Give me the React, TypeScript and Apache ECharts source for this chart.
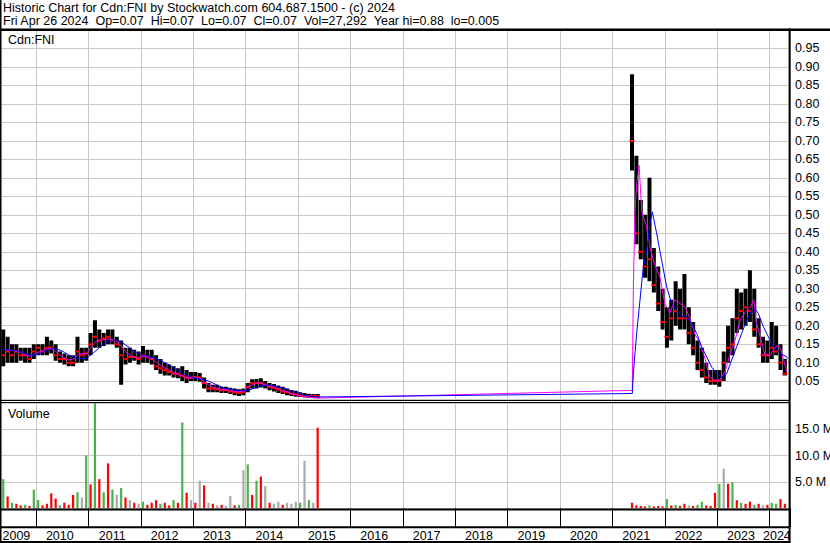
import React, { useEffect, useRef } from 'react';
import * as echarts from 'echarts';

// ---------- DATA ----------
// Period 1: May 2009 - May 2015 (monthly)
const months1 = [
  '2009-05','2009-06','2009-07','2009-08','2009-09','2009-10','2009-11','2009-12',
  '2010-01','2010-02','2010-03','2010-04','2010-05','2010-06','2010-07','2010-08','2010-09','2010-10','2010-11','2010-12',
  '2011-01','2011-02','2011-03','2011-04','2011-05','2011-06','2011-07','2011-08','2011-09','2011-10','2011-11','2011-12',
  '2012-01','2012-02','2012-03','2012-04','2012-05','2012-06','2012-07','2012-08','2012-09','2012-10','2012-11','2012-12',
  '2013-01','2013-02','2013-03','2013-04','2013-05','2013-06','2013-07','2013-08','2013-09','2013-10','2013-11','2013-12',
  '2014-01','2014-02','2014-03','2014-04','2014-05','2014-06','2014-07','2014-08','2014-09','2014-10','2014-11','2014-12',
  '2015-01','2015-02','2015-03','2015-04','2015-05'
];
const high1 = [
  0.19,0.17,0.15,0.15,0.14,0.14,0.14,0.15,
  0.15,0.15,0.17,0.16,0.15,0.13,0.125,0.12,0.12,0.17,0.14,0.14,
  0.18,0.215,0.19,0.18,0.19,0.19,0.17,0.16,0.14,0.14,0.135,0.13,
  0.145,0.135,0.135,0.12,0.11,0.10,0.095,0.09,0.085,0.09,0.08,0.075,
  0.075,0.072,0.06,0.045,0.04,0.04,0.035,0.035,0.032,0.03,0.028,0.03,
  0.045,0.055,0.056,0.058,0.05,0.045,0.042,0.038,0.035,0.03,0.026,0.024,
  0.02,0.018,0.016,0.015,0.015
];
const low1 = [
  0.09,0.10,0.10,0.10,0.105,0.10,0.10,0.11,
  0.12,0.12,0.12,0.125,0.105,0.10,0.095,0.09,0.09,0.10,0.10,0.105,
  0.12,0.14,0.14,0.145,0.15,0.15,0.14,0.04,0.095,0.10,0.105,0.095,
  0.10,0.10,0.095,0.08,0.07,0.065,0.065,0.06,0.058,0.05,0.045,0.05,
  0.05,0.048,0.03,0.02,0.02,0.02,0.018,0.018,0.015,0.012,0.01,0.012,
  0.02,0.03,0.03,0.033,0.03,0.025,0.022,0.018,0.015,0.012,0.01,0.008,
  0.007,0.006,0.005,0.005,0.005
];
const close1 = [
  0.12,0.13,0.12,0.13,0.12,0.12,0.11,0.13,
  0.14,0.13,0.14,0.14,0.12,0.11,0.11,0.10,0.10,0.13,0.12,0.125,
  0.15,0.17,0.16,0.165,0.17,0.16,0.15,0.12,0.11,0.115,0.115,0.11,
  0.12,0.115,0.11,0.09,0.085,0.08,0.075,0.07,0.07,0.065,0.06,0.06,
  0.062,0.06,0.045,0.03,0.03,0.028,0.025,0.025,0.022,0.02,0.018,0.02,
  0.035,0.045,0.045,0.045,0.04,0.035,0.032,0.028,0.022,0.02,0.016,0.014,
  0.012,0.01,0.01,0.01,0.01
];
const volume1 = [ // millions
  5.5,2.2,1.0,0.8,0.5,0.6,0.4,3.5,
  1.5,0.5,0.8,2.8,1.8,0.5,1.0,0.6,2.5,3.0,2.0,10,
  4.5,20.5,5.5,3.0,8.5,3.5,2.5,3.8,2.0,1.5,1.0,0.8,
  1.2,0.6,1.0,1.5,0.8,1.0,0.5,1.5,1.0,16.3,2.9,1.5,
  1.0,5.2,4.3,1.0,0.8,0.5,0.6,0.4,2.3,0.5,0.6,7.2,
  8.3,2.5,5.2,6.0,4.2,1.0,0.8,1.2,0.6,1.0,0.8,1.2,
  1.0,9.0,1.5,1.0,15.3
];
const volDir1 = [ // g = up, r = down, n = unchanged
  'g','r','g','r','r','g','r','g',
  'g','r','r','r','r','g','r','r','r','g','n','g',
  'r','g','r','g','r','g','n','g','r','n','r','n',
  'g','r','r','r','g','r','r','g','r','g','r','n',
  'r','n','r','n','r','n','r','n','n','r','g','n',
  'g','r','g','r','n','r','n','n','r','n','n','n',
  'g','n','g','n','r'
];
const pinkMA1 = [
  0.136,0.134,0.133,0.131,0.128,0.122,0.117,0.122,
  0.128,0.132,0.136,0.138,0.13,0.12,0.113,0.107,0.11,0.12,0.125,0.123,
  0.14,0.155,0.16,0.162,0.164,0.162,0.158,0.145,0.13,0.12,0.115,0.112,
  0.116,0.116,0.11,0.102,0.093,0.086,0.08,0.073,0.068,0.064,0.058,0.058,
  0.06,0.058,0.048,0.04,0.034,0.03,0.028,0.027,0.025,0.022,0.021,0.024,
  0.033,0.04,0.044,0.044,0.04,0.037,0.034,0.03,0.025,0.021,0.016,0.013,
  0.01,0.008,0.006,0.005,0.004
];
const blueMA1 = [
  0.136,0.134,0.134,0.132,0.129,0.124,0.12,0.121,
  0.123,0.128,0.134,0.138,0.137,0.134,0.128,0.121,0.116,0.112,0.111,0.112,
  0.12,0.13,0.14,0.15,0.156,0.16,0.161,0.156,0.148,0.14,0.13,0.124,
  0.12,0.118,0.115,0.111,0.106,0.10,0.094,0.086,0.078,0.072,0.066,0.062,
  0.058,0.056,0.054,0.05,0.045,0.039,0.034,0.03,0.028,0.026,0.025,0.024,
  0.025,0.029,0.033,0.037,0.039,0.039,0.037,0.034,0.031,0.028,0.024,0.02,
  0.016,0.012,0.01,0.008,0.007
];

// Period 2: May 2021 - Apr 2024 (monthly)
const months2 = [
  '2021-05','2021-06','2021-07','2021-08','2021-09','2021-10','2021-11','2021-12',
  '2022-01','2022-02','2022-03','2022-04','2022-05','2022-06','2022-07','2022-08','2022-09','2022-10','2022-11','2022-12',
  '2023-01','2023-02','2023-03','2023-04','2023-05','2023-06','2023-07','2023-08','2023-09','2023-10','2023-11','2023-12',
  '2024-01','2024-02','2024-03','2024-04'
];
const high2 = [
  0.88,0.66,0.54,0.50,0.60,0.41,0.36,0.30,
  0.25,0.27,0.32,0.30,0.34,0.25,0.21,0.16,0.14,0.10,0.08,0.08,
  0.08,0.13,0.20,0.22,0.30,0.29,0.30,0.35,0.30,0.22,0.17,0.16,
  0.21,0.20,0.15,0.11
];
const low2 = [
  0.62,0.42,0.38,0.33,0.32,0.29,0.24,0.19,
  0.14,0.16,0.20,0.19,0.19,0.15,0.12,0.08,0.06,0.045,0.04,0.04,
  0.035,0.05,0.10,0.12,0.18,0.19,0.20,0.21,0.17,0.14,0.10,0.10,
  0.11,0.12,0.08,0.065
];
const close2 = [
  0.70,0.45,0.40,0.36,0.38,0.31,0.26,0.21,
  0.17,0.22,0.24,0.22,0.22,0.18,0.14,0.10,0.08,0.06,0.05,0.05,
  0.05,0.10,0.14,0.15,0.22,0.24,0.25,0.24,0.19,0.15,0.12,0.12,
  0.14,0.13,0.10,0.07
];
const volume2 = [
  1.0,0.5,0.4,0.3,0.5,0.3,0.4,0.3,
  1.7,0.5,0.6,0.4,0.8,0.5,0.4,0.6,1.2,0.5,0.4,2.9,
  4.6,7.5,4.6,4.9,1.5,1.0,0.8,1.2,0.6,0.8,0.5,0.6,
  1.0,0.8,1.7,0.8
];
const volDir2 = [
  'r','r','r','r','g','r','r','r',
  'g','r','g','r','r','n','r','g','g','r','r','r',
  'g','n','r','g','r','g','r','r','g','r','n','r',
  'g','g','r','r'
];
// Moving averages after trading resumed (x in fractional years)
const pinkT2 = [
  2021.38,2021.40,2021.43,2021.46,2021.51,2021.56,2021.60,2021.65,2021.72,2021.81,2021.91,
  2022.00,2022.10,2022.19,2022.29,2022.39,2022.48,2022.58,2022.67,2022.77,2022.86,2022.96,
  2023.05,2023.15,2023.24,2023.34,2023.44,2023.53,2023.63,2023.70,2023.74,2023.82,2023.87,2023.91,
  2024.01,2024.10,2024.17,2024.22,2024.30,2024.33
];
const pinkMA2 = [
  0.025,0.30,0.50,0.58,0.634,0.51,0.49,0.47,0.41,0.365,0.33,
  0.26,0.235,0.27,0.26,0.25,0.22,0.175,0.155,0.11,0.06,0.053,
  0.053,0.075,0.12,0.16,0.215,0.235,0.25,0.27,0.215,0.17,0.143,0.12,
  0.12,0.14,0.147,0.134,0.09,0.075
];
const blueT2 = [
  2021.38,2021.40,2021.463,2021.527,2021.59,2021.654,2021.718,2021.762,2021.845,2021.94,
  2022.036,2022.131,2022.227,2022.322,2022.418,2022.513,2022.609,2022.704,2022.799,2022.895,2022.99,
  2023.086,2023.181,2023.277,2023.372,2023.468,2023.563,2023.659,2023.723,2023.786,2023.882,2023.977,
  2024.072,2024.20,2024.327,2024.34
];
const blueMA2 = [
  0.0165,0.07,0.179,0.269,0.359,0.40,0.477,0.508,0.45,0.377,
  0.305,0.26,0.242,0.224,0.224,0.206,0.179,0.143,0.116,0.088,0.07,
  0.061,0.07,0.107,0.143,0.179,0.215,0.242,0.245,0.233,0.197,0.17,
  0.143,0.125,0.116,0.11
];

const yearLabels = ['2009','2010','2011','2012','2013','2014','2015','2016','2017','2018','2019','2020','2021','2022','2023','2024'];
const headerLine1 = 'Historic Chart for Cdn:FNI by Stockwatch.com 604.687.1500 - (c) 2024';
const headerLine2 = 'Fri Apr 26 2024 \u00a0Op=0.07 \u00a0Hi=0.07 \u00a0Lo=0.07 \u00a0Cl=0.07 \u00a0Vol=27,292 \u00a0Year hi=0.88 \u00a0lo=0.005';
const symbolName = 'Cdn:FNI';
const volumeTitle = 'Volume';

// ---------- helpers ----------
const toYear = (m: string) => {
  const [y, mo] = m.split('-').map(Number);
  return y + (mo - 0.5) / 12;
};
const FONT = "'Liberation Sans', Arial, Helvetica, sans-serif";
const GRID = '#c8c8c8';
const VOLC: Record<string, string> = { g: '#4cb04c', r: '#ff0000', n: '#aaaaaa' };

export default function App() {
  const ref = useRef<HTMLDivElement>(null);

  useEffect(() => {
    if (!ref.current) return;
    const chart = echarts.init(ref.current, undefined, { renderer: 'svg' });

    const t1 = months1.map(toYear);
    const t2 = months2.map(toYear);
    const ohlc = [
      ...t1.map((t, i) => [t, high1[i], low1[i], close1[i]]),
      ...t2.map((t, i) => [t, high2[i], low2[i], close2[i]]),
    ];
    const vols = [
      ...t1.map((t, i) => ({ value: [t, volume1[i]], itemStyle: { color: VOLC[volDir1[i]] } })),
      ...t2.map((t, i) => ({ value: [t, volume2[i]], itemStyle: { color: VOLC[volDir2[i]] } })),
    ];
    const pink = [
      ...t1.map((t, i) => [t, pinkMA1[i]]),
      ...pinkT2.map((t, i) => [t, pinkMA2[i]]),
    ];
    const blue = [
      ...t1.map((t, i) => [t, blueMA1[i]]),
      ...blueT2.map((t, i) => [t, blueMA2[i]]),
    ];

    const labelStyle = { color: '#000', fontSize: 12.5, fontFamily: FONT };
    const xBase = {
      type: 'value' as const,
      min: 2009,
      max: 2024.39,
      interval: 1,
      axisLine: { show: false },
      axisLabel: { show: false },
      splitLine: { show: true, lineStyle: { color: GRID, width: 1 } },
    };

    const rect = (x: number, y: number, w: number, h: number) => ({
      type: 'rect', z: 100, silent: true,
      shape: { x, y, width: w, height: h }, style: { fill: '#000' },
    });
    const text = (x: number, y: number, s: string) => ({
      type: 'text', z: 101, silent: true, x, y,
      style: { text: s, fill: '#000', font: `12.5px ${FONT}`, verticalAlign: 'middle', align: 'left' },
    });

    chart.setOption({
      animation: false,
      backgroundColor: '#fff',
      grid: [
        { left: -16.4, right: 40, top: 30, height: 369.6, outerBoundsMode: 'none', containLabel: false },
        { left: -16.4, right: 40, top: 403, height: 105, outerBoundsMode: 'none', containLabel: false },
        { left: -45, right: 36.6, top: 509, height: 18, outerBoundsMode: 'none', containLabel: false },
      ],
      xAxis: [
        { ...xBase, gridIndex: 0, axisTick: { show: false } },
        { ...xBase, gridIndex: 1, axisTick: { show: true, length: 19, lineStyle: { color: '#000', width: 1 } } },
        {
          type: 'value', gridIndex: 2, min: 2008.5, max: 2024.5, interval: 1,
          axisLine: { show: false }, axisTick: { show: false }, splitLine: { show: false },
          axisLabel: {
            show: true, margin: 2, ...labelStyle, showMinLabel: true, showMaxLabel: true,
            formatter: (v: number) => {
              const idx = Math.round(v - 2009.5);
              if (idx < 0 || idx >= yearLabels.length) return '';
              if (idx === 0) return `{a|${yearLabels[idx]}}`;
              if (idx === yearLabels.length - 1) return `{b|${yearLabels[idx]}}`;
              return yearLabels[idx];
            },
            rich: {
              a: { ...labelStyle, padding: [0, 0, 0, 18] },
              b: { ...labelStyle, padding: [0, 33, 0, 0] },
            },
          },
        },
      ],
      yAxis: [
        {
          type: 'value', gridIndex: 0, position: 'right', min: 0, max: 1, interval: 0.05,
          axisLine: { show: false }, axisTick: { show: false },
          splitLine: { show: true, lineStyle: { color: GRID, width: 1 } },
          axisLabel: {
            margin: 5, ...labelStyle,
            formatter: (v: number) => (v > 0.001 && v < 0.999 ? v.toFixed(2) : ''),
          },
        },
        {
          type: 'value', gridIndex: 1, position: 'right', min: 0, max: 20, interval: 5,
          axisLine: { show: false }, axisTick: { show: false },
          splitLine: { show: true, lineStyle: { color: GRID, width: 1 } },
          axisLabel: {
            margin: 5, ...labelStyle,
            formatter: (v: number) => (v > 0.001 && v < 19.99 ? v.toFixed(1) + ' M' : ''),
          },
        },
        {
          type: 'value', gridIndex: 2, show: false, min: 0, max: 1,
        },
      ],
      series: [
        {
          type: 'custom', name: 'price', xAxisIndex: 0, yAxisIndex: 0, clip: true, silent: true,
          data: ohlc,
          encode: { x: 0, y: [1, 2, 3] },
          renderItem: (params: any, api: any) => {
            const t = api.value(0);
            const pHi = api.coord([t, api.value(1)]);
            const pLo = api.coord([t, api.value(2)]);
            const pCl = api.coord([t, api.value(3)]);
            const w = api.size([1 / 12, 0])[0];
            const bw = w * 0.92;
            return {
              type: 'group',
              children: [
                { type: 'rect', shape: { x: pHi[0] - bw / 2, y: pHi[1], width: bw, height: Math.max(1, pLo[1] - pHi[1]) }, style: { fill: '#000' } },
                { type: 'rect', shape: { x: pCl[0] - bw / 2 - 0.5, y: pCl[1] - 1, width: bw + 1, height: 2 }, style: { fill: '#ff0000' } },
              ],
            };
          },
        },
        {
          type: 'line', name: 'ma short', xAxisIndex: 0, yAxisIndex: 0, data: pink,
          showSymbol: false, symbol: 'none', silent: true,
          lineStyle: { color: '#ff00ff', width: 1 },
        },
        {
          type: 'line', name: 'ma long', xAxisIndex: 0, yAxisIndex: 0, data: blue,
          showSymbol: false, symbol: 'none', silent: true,
          lineStyle: { color: '#0000ff', width: 1 },
        },
        {
          type: 'bar', name: 'volume', xAxisIndex: 1, yAxisIndex: 1, data: vols,
          barWidth: 2.2, silent: true,
        },
      ],
      graphic: [
        rect(0, 0, 1.5, 543),
        rect(0, 28.5, 830, 2.5),
        rect(788.6, 28.5, 2, 514.5),
        rect(0, 400, 790, 1),
        rect(0, 402, 790, 1),
        rect(0, 508.4, 790, 2),
        rect(0, 526.3, 790, 2),
        rect(0, 541, 790, 2),
        text(3, 8, headerLine1),
        text(3, 21, headerLine2),
        text(8, 39.5, symbolName),
        text(8, 414, volumeTitle),
      ],
    });

    return () => chart.dispose();
  }, []);

  return <div ref={ref} style={{ position: 'fixed', left: 0, top: 0, width: 830, height: 543 }} />;
}
